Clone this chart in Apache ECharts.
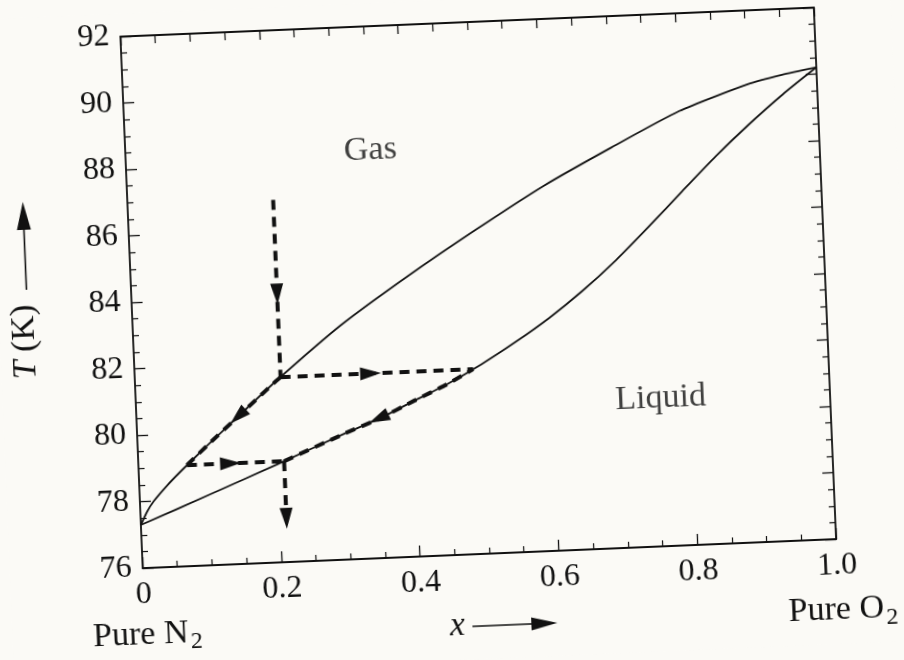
<!DOCTYPE html>
<html>
<head>
<meta charset="utf-8">
<script src="https://cdn.jsdelivr.net/npm/echarts@6/dist/echarts.min.js"></script>
<style>
html, body { margin: 0; padding: 0; background: #fbfaf6; overflow: hidden; }
#chart { width: 904px; height: 660px; transform: rotate(-2.4deg); transform-origin: 452px 330px; }
</style>
</head>
<body>
<div id="chart"></div>
<script>
// ---- data ----
const xTickValues = [0, 0.2, 0.4, 0.6, 0.8, 1.0];
const xTickLabels = ['0', '0.2', '0.4', '0.6', '0.8', '1.0'];
const yTickValues = [76, 78, 80, 82, 84, 86, 88, 90, 92];

// dew-point (gas) curve: mole fraction O2 vs T (K)
const dewX = [0, 0.01, 0.02, 0.04, 0.06, 0.10, 0.15, 0.20, 0.30, 0.40, 0.50, 0.60, 0.70, 0.80, 0.90, 0.95, 1.00];
const dewT = [77.3, 77.7, 78.0, 78.45, 78.85, 79.6, 80.5, 81.4, 83.05, 84.45, 85.75, 86.98, 88.05, 89.06, 89.78, 90.02, 90.2];

// bubble-point (liquid) curve
const bubX = [0, 0.10, 0.20, 0.30, 0.35, 0.40, 0.45, 0.50, 0.55, 0.60, 0.65, 0.70, 0.75, 0.80, 0.85, 0.90, 0.95, 1.00];
const bubT = [77.3, 78.12, 78.95, 79.8, 80.2, 80.68, 81.15, 81.7, 82.32, 83.0, 83.78, 84.66, 85.64, 86.66, 87.66, 88.58, 89.43, 90.2];

// distillation path (dashed arrows)
const feedX = 0.21;        // composition of the vertical paths
const pathStartT = 86.9;   // top of first vertical arrow
const pathEndT = 77.0;     // tip of last vertical arrow
const headVertT = 83.75;   // tip of first down-arrow head
const headHoriz1X = 0.355; // tip of upper horizontal arrow head
const headBubX = 0.335;    // tip of arrow head on liquid curve
const headDewX = 0.135;    // tip of arrow head on gas curve
const headHoriz2X = 0.148; // tip of lower horizontal arrow head

const regionLabels = ['Gas', 'Liquid'];
const regionLabelX = [0.353, 0.756];
const regionLabelT = [88.28, 80.46];

// ---- helpers ----
function interp(xs, ys, x) {
  for (let i = 0; i < xs.length - 1; i++) {
    if (x >= xs[i] && x <= xs[i + 1]) {
      const f = (x - xs[i]) / (xs[i + 1] - xs[i]);
      return ys[i] + f * (ys[i + 1] - ys[i]);
    }
  }
  return ys[ys.length - 1];
}
function invert(xs, ys, t) {
  for (let i = 0; i < xs.length - 1; i++) {
    if (t >= ys[i] && t <= ys[i + 1]) {
      const f = (t - ys[i]) / (ys[i + 1] - ys[i]);
      return xs[i] + f * (xs[i + 1] - xs[i]);
    }
  }
  return xs[xs.length - 1];
}
function segment(xs, ys, x0, x1) {
  const lo = Math.min(x0, x1), hi = Math.max(x0, x1);
  const pts = [[lo, interp(xs, ys, lo)]];
  for (let i = 0; i < xs.length; i++) if (xs[i] > lo && xs[i] < hi) pts.push([xs[i], ys[i]]);
  pts.push([hi, interp(xs, ys, hi)]);
  return pts;
}
const pair = (xs, ys) => xs.map((x, i) => [x, ys[i]]);

const T1 = interp(dewX, dewT, feedX);      // vapor reaches dew curve
const x2 = invert(bubX, bubT, T1);         // liquid in equilibrium
const T3 = interp(bubX, bubT, feedX);      // liquid at feed composition
const x4 = invert(dewX, dewT, T3);         // vapor in equilibrium

const INK = '#111111';
const FAMILY = '"Liberation Serif", "DejaVu Serif", serif';
const dashStyle = { color: INK, width: 4, type: [10, 7], cap: 'butt' };
const SMOOTH = 0.2;

const heads = [
  [feedX, headVertT, feedX, headVertT + 1],
  [headHoriz1X, T1, headHoriz1X - 0.05, T1],
  [headBubX, interp(bubX, bubT, headBubX), headBubX + 0.03, interp(bubX, bubT, headBubX + 0.03)],
  [headDewX, interp(dewX, dewT, headDewX), headDewX + 0.03, interp(dewX, dewT, headDewX + 0.03)],
  [headHoriz2X, T3, headHoriz2X - 0.05, T3],
  [feedX, pathEndT, feedX, pathEndT + 1]
];

function dashedSeries(data, smooth) {
  return { type: 'line', data: data, showSymbol: false, symbol: 'none', smooth: smooth ? SMOOTH : false,
           lineStyle: dashStyle, z: 4, silent: true };
}

const axisCommon = {
  axisLine: { show: true, onZero: false, lineStyle: { color: INK, width: 1.8 } },
  axisTick: { show: true, inside: true, length: 11, lineStyle: { color: INK, width: 1.3 } },
  minorTick: { show: true, splitNumber: 4, length: 6, lineStyle: { color: INK, width: 1.2 } },
  splitLine: { show: false }
};

const LABEL_FONT = '34px ' + FAMILY;
const SUB_FONT = '24px ' + FAMILY;

const chart = echarts.init(document.getElementById('chart'), null, { renderer: 'canvas' });
chart.setOption({
  animation: false,
  backgroundColor: '#fbfaf6',
  grid: { left: 133, right: 77, top: 23, bottom: 105, containLabel: false, outerBoundsMode: 'none' },
  xAxis: [
    Object.assign({}, axisCommon, {
      type: 'value', position: 'bottom', min: 0, max: 1, interval: 0.2,
      axisLabel: { show: true, margin: 11, color: INK, fontFamily: FAMILY, fontSize: 32,
        formatter: v => { const i = xTickValues.findIndex(t => Math.abs(t - v) < 1e-9); return i >= 0 ? xTickLabels[i] : ''; } }
    }),
    Object.assign({}, axisCommon, {
      type: 'value', position: 'top', min: 0, max: 1, interval: 0.2,
      axisTick: { show: true, inside: true, length: 9, lineStyle: { color: INK, width: 1.3 } },
      minorTick: { show: true, splitNumber: 4, length: 8, lineStyle: { color: INK, width: 1.2 } },
      axisLabel: { show: false }
    })
  ],
  yAxis: [
    Object.assign({}, axisCommon, {
      type: 'value', position: 'left', min: 76, max: 92, interval: 2,
      axisLabel: { show: true, margin: 11, color: INK, fontFamily: FAMILY, fontSize: 32,
        formatter: v => yTickValues.indexOf(v) >= 0 ? String(v) : '' }
    }),
    Object.assign({}, axisCommon, {
      type: 'value', position: 'right', min: 76, max: 92, interval: 2,
      axisLabel: { show: false }
    })
  ],
  series: [
    { name: 'Gas curve', type: 'line', data: pair(dewX, dewT), showSymbol: false, symbol: 'none',
      smooth: SMOOTH, lineStyle: { color: INK, width: 1.8, join: 'round' }, z: 3, silent: true },
    { name: 'Liquid curve', type: 'line', data: pair(bubX, bubT), showSymbol: false, symbol: 'none',
      smooth: SMOOTH, lineStyle: { color: INK, width: 1.8, join: 'round' }, z: 3, silent: true },
    dashedSeries([[feedX, pathStartT], [feedX, T1]], false),
    dashedSeries([[feedX, T1], [x2, T1]], false),
    dashedSeries(segment(bubX, bubT, feedX, x2), true),
    dashedSeries(segment(dewX, dewT, x4, feedX), true),
    dashedSeries([[x4, T3], [feedX, T3]], false),
    dashedSeries([[feedX, T3], [feedX, pathEndT + 0.3]], false),
    {
      type: 'custom', silent: true, z: 6, data: heads, clip: false,
      renderItem: function (params, api) {
        const tip = api.coord([api.value(0), api.value(1)]);
        const from = api.coord([api.value(2), api.value(3)]);
        let dx = tip[0] - from[0], dy = tip[1] - from[1];
        const len = Math.hypot(dx, dy) || 1; dx /= len; dy /= len;
        const L = 21, W = 6.5;
        const bx = tip[0] - dx * L, by = tip[1] - dy * L;
        return { type: 'polygon',
          shape: { points: [tip, [bx - dy * W, by + dx * W], [bx + dy * W, by - dx * W]] },
          style: { fill: INK } };
      }
    },
    {
      type: 'scatter', symbolSize: 0, silent: true, z: 5,
      data: regionLabels.map((s, i) => ({ value: [regionLabelX[i], regionLabelT[i]], name: s })),
      label: { show: true, position: 'inside', formatter: p => p.name, color: INK, fontFamily: FAMILY, fontSize: 34 }
    }
  ],
  graphic: [
    { type: 'text', x: 176, y: 622, style: { text: 'Pure N', font: LABEL_FONT, fill: INK, align: 'right', verticalAlign: 'middle' } },
    { type: 'text', x: 178, y: 631, style: { text: '2', font: SUB_FONT, fill: INK, align: 'left', verticalAlign: 'middle' } },
    { type: 'text', x: 872, y: 626, style: { text: 'Pure O', font: LABEL_FONT, fill: INK, align: 'right', verticalAlign: 'middle' } },
    { type: 'text', x: 874, y: 636, style: { text: '2', font: SUB_FONT, fill: INK, align: 'left', verticalAlign: 'middle' } },
    { type: 'text', x: 445, y: 626, style: { text: 'x', font: 'italic 34px ' + FAMILY, fill: INK, align: 'center', verticalAlign: 'middle' } },
    { type: 'line', shape: { x1: 460, y1: 627, x2: 522, y2: 627 }, style: { stroke: INK, lineWidth: 1.6 } },
    { type: 'polygon', shape: { points: [[545, 627], [519, 620.5], [519, 633.5]] }, style: { fill: INK } },
    { type: 'text', x: 25, y: 324, rotation: Math.PI / 2,
      style: { text: '{i|T} (K)', font: LABEL_FONT, fill: INK, align: 'center', verticalAlign: 'middle',
        rich: { i: { fontStyle: 'italic', fontFamily: FAMILY, fontSize: 34, fill: INK } } } },
    { type: 'line', shape: { x1: 28.5, y1: 272, x2: 28.5, y2: 205 }, style: { stroke: INK, lineWidth: 1.6 } },
    { type: 'polygon', shape: { points: [[28.5, 184], [21.5, 212], [35.5, 212]] }, style: { fill: INK } }
  ]
});
</script>
</body>
</html>
